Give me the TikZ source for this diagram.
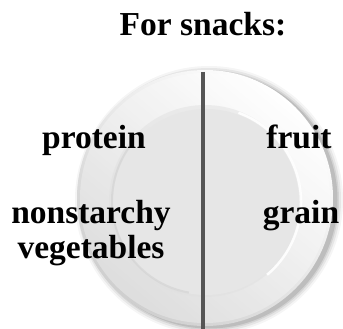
\documentclass[tikz,border=0pt]{standalone}
\usepackage{fontspec}
\setmainfont{Liberation Serif}
\usetikzlibrary{shadings}
\definecolor{platewell}{HTML}{E6E6E6}
\definecolor{rimdark}{HTML}{CFCFCF}
\definecolor{divider}{HTML}{555555}
\tikzset{
  lbl/.style={font=\fontsize{33.5}{35}\selectfont\bfseries, text=black, inner sep=0pt, align=center},
}
\begin{document}
\begin{tikzpicture}[x=1pt,y=-1pt]
\useasboundingbox[fill=white] (0,0) rectangle (343,329);
% plate shadow (soft, towards lower right)
\foreach \r/\o in {134/0.04,132/0.06,130/0.08,128.5/0.10}{
  \fill[black,opacity=\o] (209,200) circle (\r);
}
% plate rim
\shade[top color=white, bottom color=rimdark, shading angle=-40] (205,198) circle (128);
\fill[white,opacity=0.3] (205,198) circle (125);
% plate well
\fill[black!12,opacity=0.5] (205,201) circle (96);
\fill[platewell] (206,202) circle (93);
\draw[white,line width=2.5pt,opacity=0.9] (206,202) ++(-70:95) arc[start angle=-70,end angle=50,radius=95];
\draw[black!18,line width=2pt,opacity=0.6] (205,201) ++(100:93) arc[start angle=100,end angle=220,radius=93];
% divider
\coordinate (dtop) at (203,72);
\coordinate (dbot) at (203,329);
\draw[divider,line width=3.5pt] (dtop) -- (dbot);
% labels
\node[lbl,anchor=base] (title) at (203,36) {For snacks:};
\node[lbl,anchor=base] (protein) at (94,148) {protein};
\node[lbl,anchor=base] (nonstarchy) at (91,258) {nonstarchy\\vegetables};
\node[lbl,anchor=base] (fruit) at (299,148) {fruit};
\node[lbl,anchor=base] (grain) at (301,223) {grain};
\end{tikzpicture}
\end{document}
